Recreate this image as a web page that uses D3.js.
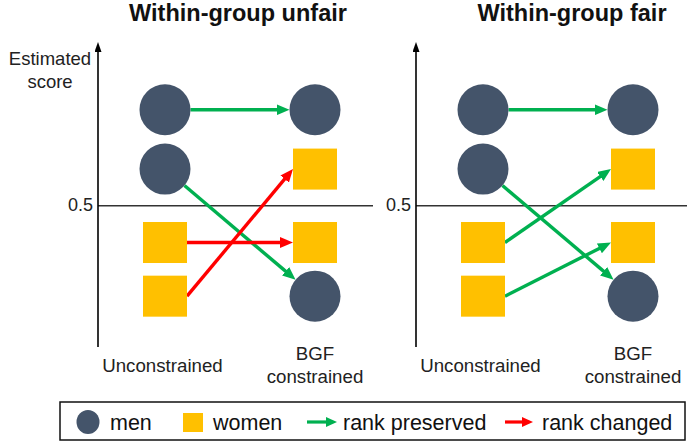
<!DOCTYPE html>
<html>
<head>
<meta charset="utf-8">
<script src="https://cdn.jsdelivr.net/npm/d3@7"></script>
<style>
  html, body { margin: 0; padding: 0; background: #fff; }
  svg { display: block; font-family: "Liberation Sans", Arial, sans-serif; }
</style>
</head>
<body>
<svg id="chart" width="687" height="444"></svg>
<script>
// ---- data ----
const panelTitles = ["Within-group unfair", "Within-group fair"];
const stageLabels = ["Unconstrained", "BGF constrained"];
const stageLines = [["Unconstrained"], ["BGF", "constrained"]];
const yAxisLabel = ["Estimated", "score"];
const thresholdValue = 0.5;
const thresholdLabel = "0.5";
const people = ["man A", "man B", "woman C", "woman D"];
const groups = ["men", "men", "women", "women"];
const unfairBefore = [0.84, 0.63, 0.37, 0.18];
const unfairAfter  = [0.84, 0.18, 0.37, 0.63];
const unfairRank   = ["preserved", "preserved", "changed", "changed"];
const fairBefore   = [0.84, 0.63, 0.37, 0.18];
const fairAfter    = [0.84, 0.18, 0.63, 0.37];
const fairRank     = ["preserved", "preserved", "preserved", "preserved"];
const legendLabels = ["men", "women", "rank preserved", "rank changed"];

// ---- styles ----
const colMen = "#44546a", colWomen = "#ffc000";
const colRank = { preserved: "#00b050", changed: "#ff0000" };
const R = 25.5, SQW = 44, SQH = 41;

const panels = [
  { title: panelTitles[0], before: unfairBefore, after: unfairAfter, rank: unfairRank },
  { title: panelTitles[1], before: fairBefore, after: fairAfter, rank: fairRank }
];

const svg = d3.select("#chart");
const panelX = d3.scaleBand().domain(panelTitles).range([0, 636]);
const x = d3.scalePoint().domain(stageLabels).range([165, 315]);
const y = d3.scaleLinear().domain([0, 1.08]).range([347, 42]);
const axisX = 98;
const titleX = [238, 572];

const defs = svg.append("defs");
Object.entries(colRank).forEach(([k, c]) => {
  defs.append("marker").attr("id", "arr-" + k)
    .attr("markerUnits", "userSpaceOnUse")
    .attr("viewBox", "0 0 13 11").attr("markerWidth", 13).attr("markerHeight", 11)
    .attr("refX", 6).attr("refY", 5.5).attr("orient", "auto")
    .append("path").attr("d", "M0,0 L13,5.5 L0,11 Z").attr("fill", c);
  defs.append("marker").attr("id", "larr-" + k)
    .attr("markerUnits", "userSpaceOnUse")
    .attr("viewBox", "0 0 11 10").attr("markerWidth", 11).attr("markerHeight", 10)
    .attr("refX", 5).attr("refY", 5).attr("orient", "auto")
    .append("path").attr("d", "M0,0 L11,5 L0,10 Z").attr("fill", c);
});
defs.append("marker").attr("id", "axarr")
  .attr("markerUnits", "userSpaceOnUse")
  .attr("viewBox", "0 0 10 7").attr("markerWidth", 10).attr("markerHeight", 7)
  .attr("refX", 2).attr("refY", 3.5).attr("orient", "auto")
  .append("path").attr("d", "M0,0 L10,3.5 L0,7 Z").attr("fill", "#000");

function anchor(group, cx, cy, ox, oy, isStart) {
  if (group === "women") {
    return [isStart ? cx + SQW / 2 : cx - SQW / 2, cy];
  }
  const dx = ox - cx, dy = oy - cy, L = Math.hypot(dx, dy);
  return [cx + R * dx / L, cy + R * dy / L];
}

panels.forEach((p, pi) => {
  const g = svg.append("g").attr("transform", `translate(${panelX(p.title)},0)`);

  // title
  svg.append("text").attr("x", titleX[pi]).attr("y", 21)
    .attr("text-anchor", "middle").attr("font-weight", "bold")
    .attr("font-size", 23.5).attr("fill", "#111").text(p.title);

  // threshold line
  g.append("line").attr("x1", axisX).attr("x2", axisX + 275)
    .attr("y1", y(thresholdValue)).attr("y2", y(thresholdValue))
    .attr("stroke", "#333").attr("stroke-width", 1.4);
  g.append("text").attr("x", axisX - 5).attr("y", y(thresholdValue) + 5.5)
    .attr("text-anchor", "end").attr("font-size", 18).attr("fill", "#222")
    .text(thresholdLabel);

  // y axis with arrow
  g.append("line").attr("x1", axisX).attr("x2", axisX)
    .attr("y1", y(0)).attr("y2", y.range()[1] + 8)
    .attr("stroke", "#000").attr("stroke-width", 1.6)
    .attr("marker-end", "url(#axarr)");

  if (pi === 0) {
    g.append("text").attr("x", 50).attr("font-size", 18.5).attr("fill", "#222")
      .attr("text-anchor", "middle")
      .selectAll("tspan").data(yAxisLabel).join("tspan")
      .attr("x", 50).attr("y", (d, i) => 65 + i * 23).text(d => d);
  }

  // stage labels
  stageLabels.forEach((s, si) => {
    const lines = stageLines[si];
    const t = g.append("text").attr("font-size", 18.7).attr("fill", "#222")
      .attr("text-anchor", "middle");
    lines.forEach((ln, li) => {
      const yy = lines.length === 1 ? 372 : 360 + li * 23;
      t.append("tspan").attr("x", x(s) - (lines.length === 1 ? 2.5 : 0)).attr("y", yy).text(ln);
    });
  });

  // arrows
  people.forEach((who, i) => {
    const x0 = x(stageLabels[0]), y0 = y(p.before[i]);
    const x1 = x(stageLabels[1]), y1 = y(p.after[i]);
    const grp = groups[i];
    let s = anchor(grp, x0, y0, x1, y1, true);
    let e = anchor(grp, x1, y1, x0, y0, false);
    // refine circle anchors toward the other anchor
    s = anchor(grp, x0, y0, e[0], e[1], true);
    e = anchor(grp, x1, y1, s[0], s[1], false);
    const dx = e[0] - s[0], dy = e[1] - s[1], L = Math.hypot(dx, dy);
    const ex = e[0] - 7 * dx / L, ey = e[1] - 7 * dy / L;
    g.append("line").attr("x1", s[0]).attr("y1", s[1]).attr("x2", ex).attr("y2", ey)
      .attr("stroke", colRank[p.rank[i]]).attr("stroke-width", 3.4)
      .attr("marker-end", `url(#arr-${p.rank[i]})`);
  });

  // markers
  people.forEach((who, i) => {
    [p.before[i], p.after[i]].forEach((v, si) => {
      const cx = x(stageLabels[si]), cy = y(v);
      if (groups[i] === "men") {
        g.append("circle").attr("cx", cx).attr("cy", cy).attr("r", R).attr("fill", colMen);
      } else {
        g.append("rect").attr("x", cx - SQW / 2).attr("y", cy - SQH / 2)
          .attr("width", SQW).attr("height", SQH).attr("fill", colWomen);
      }
    });
  });
});

// legend
const lg = svg.append("g");
lg.append("rect").attr("x", 60).attr("y", 402).attr("width", 625).attr("height", 38)
  .attr("fill", "#fff").attr("stroke", "#111").attr("stroke-width", 1.5);
const ly = 422, lfs = 21.5, lby = 429.5;
lg.append("ellipse").attr("cx", 88).attr("cy", ly).attr("rx", 11.5).attr("ry", 12).attr("fill", colMen);
lg.append("text").attr("x", 110).attr("y", lby).attr("font-size", lfs).attr("fill", "#111").text(legendLabels[0]);
lg.append("rect").attr("x", 183).attr("y", 413).attr("width", 20).attr("height", 19).attr("fill", colWomen);
lg.append("text").attr("x", 213).attr("y", lby).attr("font-size", lfs).attr("fill", "#111").text(legendLabels[1]);
lg.append("line").attr("x1", 307).attr("x2", 331).attr("y1", ly).attr("y2", ly)
  .attr("stroke", colRank.preserved).attr("stroke-width", 3.2).attr("marker-end", "url(#larr-preserved)");
lg.append("text").attr("x", 343).attr("y", lby).attr("font-size", lfs).attr("fill", "#111").text(legendLabels[2]);
lg.append("line").attr("x1", 505).attr("x2", 527).attr("y1", ly).attr("y2", ly)
  .attr("stroke", colRank.changed).attr("stroke-width", 3.2).attr("marker-end", "url(#larr-changed)");
lg.append("text").attr("x", 542).attr("y", lby).attr("font-size", lfs).attr("fill", "#111").text(legendLabels[3]);
</script>
</body>
</html>
